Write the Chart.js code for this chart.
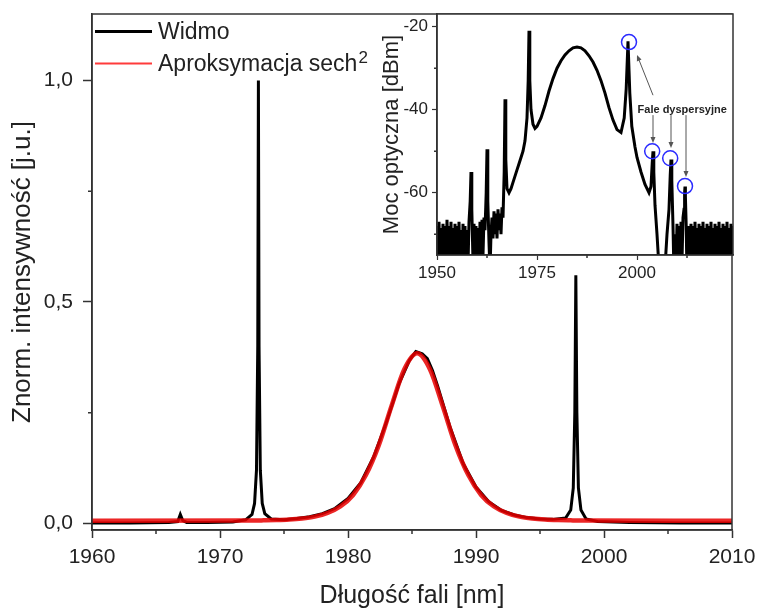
<!doctype html>
<html>
<head>
<meta charset="utf-8">
<title>Widmo</title>
<script src="https://cdn.jsdelivr.net/npm/chart.js@4.4.1/dist/chart.umd.min.js"></script>
<style>
  body { margin: 0; background: #fff; }
  #wrap { position: relative; width: 758px; height: 610px; }
  #main { position: absolute; left: 0; top: 0; }
  #inset { position: absolute; left: 370px; top: 0; }
</style>
</head>
<body>
<div id="wrap">
  <canvas id="main" width="758" height="610"></canvas>
  <canvas id="inset" width="380" height="290"></canvas>
</div>
<script>
// ---- main plot: normalised spectrum ----
const widmoNm = [1960, 1963, 1966, 1966.7, 1966.9, 1967.1, 1967.4, 1969, 1971, 1972,
  1972.5, 1972.7, 1972.85, 1972.95, 1973.0, 1973.05, 1973.15, 1973.3, 1973.5, 1974,
  1975, 1976, 1977, 1978, 1979, 1980, 1981, 1982, 1983, 1984,
  1984.8, 1985.3, 1985.8, 1986.2, 1986.6, 1987, 1988, 1989, 1990, 1991,
  1992, 1993, 1994, 1995, 1996, 1997, 1997.4, 1997.6, 1997.72, 1997.8,
  1997.88, 1998.0, 1998.2, 1998.6, 1999.5, 2002, 2006, 2010];
const widmoInt = [0.001, 0.001, 0.002, 0.004, 0.02, 0.006, 0.002, 0.002, 0.003, 0.008,
  0.02, 0.045, 0.12, 0.4, 1.0, 0.4, 0.12, 0.045, 0.022, 0.01,
  0.008, 0.011, 0.015, 0.022, 0.034, 0.056, 0.092, 0.15, 0.228, 0.316,
  0.368, 0.388, 0.383, 0.372, 0.345, 0.31, 0.215, 0.135, 0.082, 0.049,
  0.029, 0.019, 0.013, 0.01, 0.009, 0.012, 0.03, 0.08, 0.25, 0.56,
  0.25, 0.08, 0.03, 0.01, 0.004, 0.002, 0.001, 0.001];

const fitNm = [1960, 1972.4, 1973.4, 1974.4, 1975.4, 1976.4, 1977.4, 1978.4, 1979.4, 1980.4,
  1981.4, 1982.4, 1983.4, 1984.4, 1985.4, 1986.4, 1987.4, 1988.4, 1989.4, 1990.4,
  1991.4, 1992.4, 1993.4, 1994.4, 1995.4, 1996.4, 1997.4, 1998.4, 2010];
const fitInt = [0.006, 0.0064, 0.0068, 0.0074, 0.0086, 0.011, 0.0153, 0.0234, 0.038, 0.064,
  0.109, 0.176, 0.265, 0.348, 0.384, 0.348, 0.265, 0.176, 0.109, 0.064,
  0.038, 0.0234, 0.0153, 0.011, 0.0086, 0.0074, 0.0068, 0.0064, 0.006];

const xTicks = [1960, 1970, 1980, 1990, 2000, 2010];
const xMinor = [1965, 1975, 1985, 1995, 2005];
const yTicks = [0, 0.5, 1.0];
const yTickLabels = ['0,0', '0,5', '1,0'];
const yMinor = [0.25, 0.75];

// ---- inset: optical power in dBm ----
const insetNm = [
  1950, 1950.25, 1950.5, 1950.75, 1951, 1951.25, 1951.5, 1951.75, 1952, 1952.25,
  1952.5, 1952.75, 1953, 1953.25, 1953.5, 1953.75, 1954, 1954.25, 1954.5, 1954.75,
  1955, 1955.25, 1955.5, 1955.75, 1956, 1956.25, 1956.5, 1956.75, 1957, 1957.25,
  1957.5, 1957.75, 1958, 1958.3, 1958.5, 1958.7, 1959, 1959.25, 1959.5, 1959.75,
  1960, 1960.25, 1960.5, 1960.75, 1961, 1961.25, 1961.5, 1961.75, 1962, 1962.3,
  1962.5, 1962.7, 1963, 1963.25, 1963.5, 1963.75, 1964, 1964.25, 1964.5, 1964.75,
  1965, 1965.25, 1965.5, 1965.75, 1966, 1966.25, 1966.5, 1966.8, 1967, 1967.2,
  1967.5, 1968, 1968.5, 1969, 1969.5, 1970, 1970.5, 1971, 1971.5, 1972,
  1972.5, 1972.8, 1973, 1973.2, 1973.5, 1974, 1974.5, 1975, 1976, 1977,
  1978, 1979, 1980, 1981, 1982, 1983, 1984, 1985, 1986, 1987,
  1988, 1989, 1990, 1991, 1992, 1993, 1994, 1995, 1996, 1996.8,
  1997.3, 1997.75, 1998.2, 1998.7, 1999.5, 2000, 2001, 2002, 2003, 2003.5,
  2003.8, 2004, 2004.2, 2004.5, 2005, 2005.5, 2006, 2006.5, 2007, 2007.5,
  2008, 2008.3, 2008.5, 2008.7, 2009, 2009.25, 2009.5, 2009.75, 2010, 2010.25,
  2010.5, 2010.75, 2011, 2011.25, 2011.5, 2011.75, 2011.9, 2012, 2012.1, 2012.3,
  2012.5, 2012.75, 2013, 2013.25, 2013.5, 2013.75, 2014, 2014.25, 2014.5, 2014.75,
  2015, 2015.25, 2015.5, 2015.75, 2016, 2016.25, 2016.5, 2016.75, 2017, 2017.25,
  2017.5, 2017.75, 2018, 2018.25, 2018.5, 2018.75, 2019, 2019.25, 2019.5, 2019.75,
  2020, 2020.25, 2020.5, 2020.75, 2021, 2021.25, 2021.5, 2021.75, 2022, 2022.25,
  2022.5, 2022.75, 2023, 2023.25, 2023.5, 2023.75, 2024];
const insetDbm = [
  -68, -77.5, -67, -78.5, -68.5, -76.5, -67.5, -79, -68, -77.5,
  -66.5, -77, -68, -80, -67, -77.5, -68.5, -78.5, -67.5, -76.5,
  -68, -79, -67, -77.5, -69, -80, -67.5, -78, -68, -80,
  -69, -77.5, -67, -62, -55, -64, -76.5, -67.5, -79, -68,
  -80, -68.5, -77.5, -67, -76.5, -66.5, -75, -66, -69, -60,
  -49.5, -62, -72, -79, -70, -66, -71, -64.5, -70, -65,
  -71, -64, -69, -65, -70, -63.5, -66, -55, -37.5, -52,
  -59, -60, -59, -57.5, -56, -54.5, -53, -51.5, -50, -47.5,
  -42, -33, -21, -33, -40, -43.5, -44.5, -44, -42, -39,
  -35.5, -32.5, -30, -28.2, -26.8, -25.8, -25.1, -24.9, -25.1, -25.8,
  -27, -28.5, -30.5, -33, -36, -39.5, -42.5, -44.8, -45.5, -42,
  -35, -23.5, -36, -44, -49, -51.5, -55, -58, -60, -58.5,
  -53, -50, -55, -63, -70, -78, -80, -80, -78, -70,
  -64, -56, -52, -57, -68, -80, -70, -78.5, -67.5, -77.5,
  -68, -79, -67, -76.5, -66, -64, -60, -58.5, -61, -68,
  -80, -75, -68, -78.5, -67.5, -77.5, -68, -79, -67, -77,
  -68.5, -78.5, -67.5, -77.5, -68, -80, -67, -76.5, -68.5, -78.5,
  -67.5, -78, -68, -79, -67, -77, -68.5, -78.5, -67.5, -77.5,
  -68, -80, -67, -76.5, -68.5, -78.5, -67.5, -78, -68, -79,
  -67, -77, -68.5, -78.5, -67.5, -77.5, -68];

const insetXTicks = [1950, 1975, 2000];
const insetXMinor = [1962.5, 1987.5, 2012.5];
const insetYTicks = [-20, -40, -60];
const insetYMinor = [-30, -50, -70];

// dispersive waves: circled peaks, arrows and their label
const markerNm = [1998, 2003.8, 2008.3, 2012];
const markerDbm = [-23.7, -50, -51.7, -58.4];
const arrowTailNm = [2004, 2004, 2008.5, 2012.25];
const arrowTailDbm = [-36.5, -41.3, -41.3, -41.3];
const arrowHeadNm = [2000, 2004, 2008.5, 2012.25];
const arrowHeadDbm = [-26.8, -48, -49.2, -56.2];
const noteText = 'Fale dyspersyjne';
const noteNm = 2011.3;
const noteDbm = -40;

const FONT = "'Liberation Sans', Arial, sans-serif";
const INK = '#222';
const AXIS = '#333';

function pts(xs, ys) {
  return xs.map((x, i) => ({ x: x, y: ys[i] }));
}

// frame round the plot area, minor ticks, optional white fill
const boxPlugin = {
  id: 'box',
  beforeDraw(chart, args, opts) {
    if (!opts.fill) return;
    const a = chart.chartArea, c = chart.ctx;
    c.save();
    c.fillStyle = opts.fill;
    c.fillRect(a.left, a.top, a.right - a.left, a.bottom - a.top);
    c.restore();
  },
  afterDraw(chart, args, opts) {
    const { ctx, chartArea: a, scales } = chart;
    ctx.save();
    ctx.strokeStyle = AXIS;
    ctx.lineWidth = 1.5;
    ctx.strokeRect(a.left, a.top, a.right - a.left, a.bottom - a.top);
    ctx.beginPath();
    (opts.minorX || []).forEach(v => {
      const p = scales.x.getPixelForValue(v);
      ctx.moveTo(p, a.bottom);
      ctx.lineTo(p, a.bottom + opts.minorLen);
    });
    (opts.minorY || []).forEach(v => {
      const p = scales.y.getPixelForValue(v);
      ctx.moveTo(a.left - opts.minorLen, p);
      ctx.lineTo(a.left, p);
    });
    ctx.stroke();
    ctx.restore();
  }
};

// legend in the top-left corner of the plot, with a raised "2" for sech²
const cornerLegend = {
  id: 'cornerLegend',
  afterDraw(chart, args, opts) {
    const ctx = chart.ctx;
    ctx.save();
    ctx.fillStyle = INK;
    ctx.textBaseline = 'middle';
    chart.data.datasets.forEach((ds, i) => {
      const y = opts.top + i * opts.rowGap;
      ctx.strokeStyle = ds.legendColor;
      ctx.lineWidth = ds.legendWidth;
      ctx.beginPath();
      ctx.moveTo(opts.x, y);
      ctx.lineTo(opts.x + opts.lineLen, y);
      ctx.stroke();
      let text = ds.label, sup = '';
      if (text.endsWith('²')) { text = text.slice(0, -1); sup = '2'; }
      const tx = opts.x + opts.lineLen + 6;
      ctx.font = '23px ' + FONT;
      ctx.fillText(text, tx, y + 1);
      if (sup) {
        const w = ctx.measureText(text).width;
        ctx.font = '17px ' + FONT;
        ctx.fillText(sup, tx + w + 1, y - 5);
      }
    });
    ctx.restore();
  }
};

function arrow(ctx, x0, y0, x1, y1) {
  const ang = Math.atan2(y1 - y0, x1 - x0);
  ctx.beginPath();
  ctx.moveTo(x0, y0);
  ctx.lineTo(x1 - 4 * Math.cos(ang), y1 - 4 * Math.sin(ang));
  ctx.stroke();
  ctx.beginPath();
  ctx.moveTo(x1, y1);
  ctx.lineTo(x1 - 6 * Math.cos(ang) + 2.5 * Math.sin(ang), y1 - 6 * Math.sin(ang) - 2.5 * Math.cos(ang));
  ctx.lineTo(x1 - 6 * Math.cos(ang) - 2.5 * Math.sin(ang), y1 - 6 * Math.sin(ang) + 2.5 * Math.cos(ang));
  ctx.closePath();
  ctx.fill();
}

const dispersivePlugin = {
  id: 'dispersive',
  afterDatasetsDraw(chart) {
    const { ctx, scales: { x, y } } = chart;
    ctx.save();
    ctx.strokeStyle = '#2a2aff';
    ctx.lineWidth = 1.5;
    markerNm.forEach((v, i) => {
      ctx.beginPath();
      ctx.arc(x.getPixelForValue(v), y.getPixelForValue(markerDbm[i]), 7.5, 0, Math.PI * 2);
      ctx.stroke();
    });
    ctx.strokeStyle = '#555';
    ctx.fillStyle = '#555';
    ctx.lineWidth = 1;
    arrowTailNm.forEach((v, i) => {
      arrow(ctx, x.getPixelForValue(v), y.getPixelForValue(arrowTailDbm[i]),
        x.getPixelForValue(arrowHeadNm[i]), y.getPixelForValue(arrowHeadDbm[i]));
    });
    ctx.font = 'bold 11px ' + FONT;
    ctx.fillStyle = INK;
    ctx.textAlign = 'center';
    ctx.textBaseline = 'middle';
    ctx.fillText(noteText, x.getPixelForValue(noteNm), y.getPixelForValue(noteDbm));
    ctx.restore();
  }
};

new Chart(document.getElementById('main'), {
  type: 'line',
  data: {
    datasets: [{
      label: 'Widmo',
      data: pts(widmoNm, widmoInt),
      borderColor: '#000',
      borderWidth: 3,
      pointRadius: 0,
      tension: 0,
      order: 1,
      legendColor: '#000',
      legendWidth: 3
    }, {
      label: 'Aproksymacja sech²',
      data: pts(fitNm, fitInt),
      borderColor: 'rgba(232,0,0,0.85)',
      borderWidth: 4.5,
      pointRadius: 0,
      cubicInterpolationMode: 'monotone',
      order: 0,
      legendColor: '#ff3b3b',
      legendWidth: 2
    }]
  },
  options: {
    responsive: false,
    animation: false,
    devicePixelRatio: 1,
    layout: { padding: { left: 0, top: 14, right: 26, bottom: 0 } },
    plugins: {
      legend: { display: false },
      tooltip: { enabled: false },
      box: { minorX: xMinor, minorY: yMinor, minorLen: 4 },
      cornerLegend: { x: 95, top: 31.5, rowGap: 32, lineLen: 57 }
    },
    scales: {
      x: {
        type: 'linear',
        min: 1960,
        max: 2010,
        afterBuildTicks: s => { s.ticks = xTicks.map(v => ({ value: v })); },
        afterFit: s => { s.height = 80; s.paddingLeft = 0; s.paddingRight = 0; },
        ticks: {
          font: { family: FONT, size: 21 },
          color: INK,
          padding: 7,
          maxRotation: 0,
          callback: v => String(v)
        },
        grid: { drawOnChartArea: false, tickLength: 8, tickWidth: 1.5, color: AXIS },
        border: { color: AXIS, width: 1.5 },
        title: {
          display: true,
          text: 'Długość fali [nm]',
          color: INK,
          font: { family: FONT, size: 25, lineHeight: 1 },
          padding: { top: 0, bottom: 1 }
        }
      },
      y: {
        min: -0.015,
        max: 1.15,
        afterBuildTicks: s => { s.ticks = yTicks.map(v => ({ value: v })); },
        afterFit: s => { s.width = 92; s.paddingTop = 0; s.paddingBottom = 0; },
        ticks: {
          font: { family: FONT, size: 21 },
          color: INK,
          padding: 10,
          callback: (v, i) => yTickLabels[i]
        },
        grid: { drawOnChartArea: false, tickLength: 9, tickWidth: 1.5, color: AXIS },
        border: { color: AXIS, width: 1.5 },
        title: {
          display: true,
          text: 'Znorm. intensywność [j.u.]',
          color: INK,
          font: { family: FONT, size: 26, lineHeight: 1 },
          padding: { top: 10, bottom: 0 }
        }
      }
    }
  },
  plugins: [boxPlugin, cornerLegend]
});

new Chart(document.getElementById('inset'), {
  type: 'line',
  data: {
    datasets: [{
      label: 'Moc',
      data: pts(insetNm, insetDbm),
      borderColor: '#000',
      borderWidth: 3,
      pointRadius: 0,
      tension: 0,
      clip: 0
    }]
  },
  options: {
    responsive: false,
    animation: false,
    devicePixelRatio: 1,
    layout: { padding: { left: 0, top: 14, right: 17, bottom: 0 } },
    plugins: {
      legend: { display: false },
      tooltip: { enabled: false },
      box: { fill: '#fff', minorX: insetXMinor, minorY: insetYMinor, minorLen: 3 }
    },
    scales: {
      x: {
        type: 'linear',
        min: 1950,
        max: 2024,
        afterBuildTicks: s => { s.ticks = insetXTicks.map(v => ({ value: v })); },
        afterFit: s => { s.height = 35; s.paddingLeft = 0; s.paddingRight = 0; },
        ticks: {
          font: { family: FONT, size: 17 },
          color: INK,
          padding: 3,
          maxRotation: 0,
          callback: v => String(v)
        },
        grid: { drawOnChartArea: false, tickLength: 5, tickWidth: 1.2, color: AXIS },
        border: { color: AXIS, width: 1.5 }
      },
      y: {
        min: -75,
        max: -16.94,
        afterBuildTicks: s => { s.ticks = insetYTicks.map(v => ({ value: v })); },
        afterFit: s => { s.width = 67; s.paddingTop = 0; s.paddingBottom = 0; },
        ticks: {
          font: { family: FONT, size: 17 },
          color: INK,
          padding: 4,
          callback: v => String(v)
        },
        grid: { drawOnChartArea: false, tickLength: 5, tickWidth: 1.2, color: AXIS },
        border: { color: AXIS, width: 1.5 },
        title: {
          display: true,
          text: 'Moc optyczna [dBm]',
          color: INK,
          font: { family: FONT, size: 22, lineHeight: 1 },
          padding: { top: 11, bottom: 0 }
        }
      }
    }
  },
  plugins: [boxPlugin, dispersivePlugin]
});
</script>
</body>
</html>
